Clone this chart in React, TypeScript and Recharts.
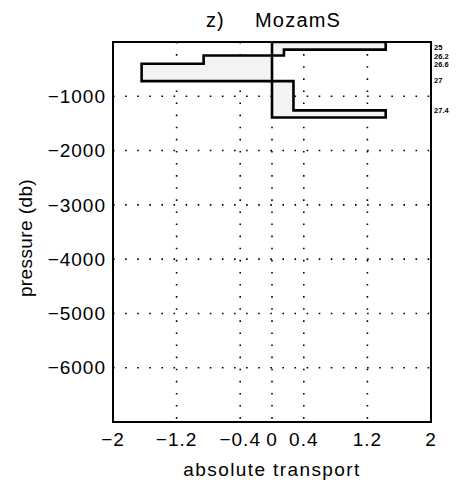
import React from 'react';
import { ComposedChart, XAxis, YAxis, CartesianGrid, Scatter, ReferenceArea } from 'recharts';

// Layer boundaries (pressure, db) and absolute transport per layer
const layerTop = [0, -140, -250, -400, -720, -1260];
const layerBottom = [-140, -250, -400, -720, -1260, -1390];
const transport = [1.43, 0.15, -0.86, -1.64, 0.27, 1.43];

// Density surfaces labelled on the right
const densityLabels = ['25', '26.2', '26.6', '27', '27.4'];
const densityPressure = [-140, -250, -400, -720, -1260];

const xTicks = [-2, -1.2, -0.4, 0, 0.4, 1.2, 2];
const yTicks = [-6000, -5000, -4000, -3000, -2000, -1000];

const outline: { x: number; y: number }[] = [{ x: 0, y: layerTop[0] }];
transport.forEach((t, i) => {
  outline.push({ x: t, y: layerTop[i] });
  outline.push({ x: t, y: layerBottom[i] });
});
outline.push({ x: 0, y: layerBottom[layerBottom.length - 1] });
outline.push({ x: 0, y: layerTop[0] });

const FONT = 'Liberation Sans, Arial, Helvetica, sans-serif';
const fmt = (v: number) => String(v).replace('-', '\u2212');

// small vertical nudges (px) so the crowded density labels do not collide
const labelNudge = [-2.5, 1, 0.5, -1, 0];

const DensityTick = (props: any) => {
  const { x, y, payload, index } = props;
  const i = densityPressure.indexOf(payload.value);
  return (
    <text
      x={x + 3}
      y={y + (labelNudge[index] ?? 0)}
      dy="0.35em"
      textAnchor="start"
      fontSize={7.5}
      fontWeight="bold"
      fontFamily={FONT}
      fill="#000"
    >
      {densityLabels[i]}
    </text>
  );
};

export default function App() {
  return (
    <div style={{ position: 'absolute', left: 0, top: 0, width: 460, height: 485, background: '#fff', fontFamily: FONT }}>
      <div style={{ position: 'absolute', left: 206, top: 10, fontSize: 20, lineHeight: '20px', letterSpacing: 1, color: '#000' }}>z)</div>
      <div style={{ position: 'absolute', left: 255, top: 10, fontSize: 20, lineHeight: '20px', letterSpacing: 1.2, color: '#000' }}>MozamS</div>
      <ComposedChart width={460} height={485} margin={{ top: 42, right: 0, bottom: 0, left: 0 }}>
        <XAxis
          type="number"
          dataKey="x"
          domain={[-2, 2]}
          ticks={xTicks}
          tickFormatter={fmt}
          interval={0}
          allowDataOverflow
          axisLine={false}
          tickLine={false}
          tickSize={0}
          tickMargin={11}
          height={63}
          tick={{ fill: '#000', fontSize: 19, fontFamily: FONT, letterSpacing: 1 }}
          label={{ value: 'absolute transport', position: 'insideBottom', offset: 9, fill: '#000', fontSize: 19, fontFamily: FONT, letterSpacing: 1.4 }}
        />
        <YAxis
          type="number"
          dataKey="y"
          domain={[-7000, 0]}
          ticks={yTicks}
          tickFormatter={fmt}
          interval={0}
          allowDataOverflow
          axisLine={false}
          tickLine={false}
          tickSize={0}
          tickMargin={7}
          width={113}
          tick={{ fill: '#000', fontSize: 19, fontFamily: FONT, letterSpacing: 1 }}
          label={{ value: 'pressure (db)', angle: -90, position: 'insideLeft', offset: 25, dy: 6, textAnchor: 'middle', fill: '#000', fontSize: 19, fontFamily: FONT, letterSpacing: 0.4 }}
        />
        <YAxis
          yAxisId="r"
          orientation="right"
          type="number"
          domain={[-7000, 0]}
          ticks={densityPressure}
          interval={0}
          allowDataOverflow
          axisLine={false}
          tickLine={false}
          tickSize={0}
          tickMargin={0}
          width={29}
          tick={<DensityTick />}
        />
        {transport.map((t, i) => (
          <ReferenceArea
            key={i}
            x1={Math.min(0, t)}
            x2={Math.max(0, t)}
            y1={layerBottom[i]}
            y2={layerTop[i]}
            fill="#f3f3f3"
            fillOpacity={1}
            stroke="none"
          />
        ))}
        <CartesianGrid stroke="#000" strokeWidth={1.6} strokeDasharray="1.6 10.5" />
        <Scatter
          data={outline}
          isAnimationActive={false}
          line={{ stroke: '#000', strokeWidth: 2.6 }}
          shape={() => <g />}
        />
        <ReferenceArea x1={-2} x2={2} y1={-7000} y2={0} fill="none" stroke="#000" strokeWidth={2} />
      </ComposedChart>
    </div>
  );
}
